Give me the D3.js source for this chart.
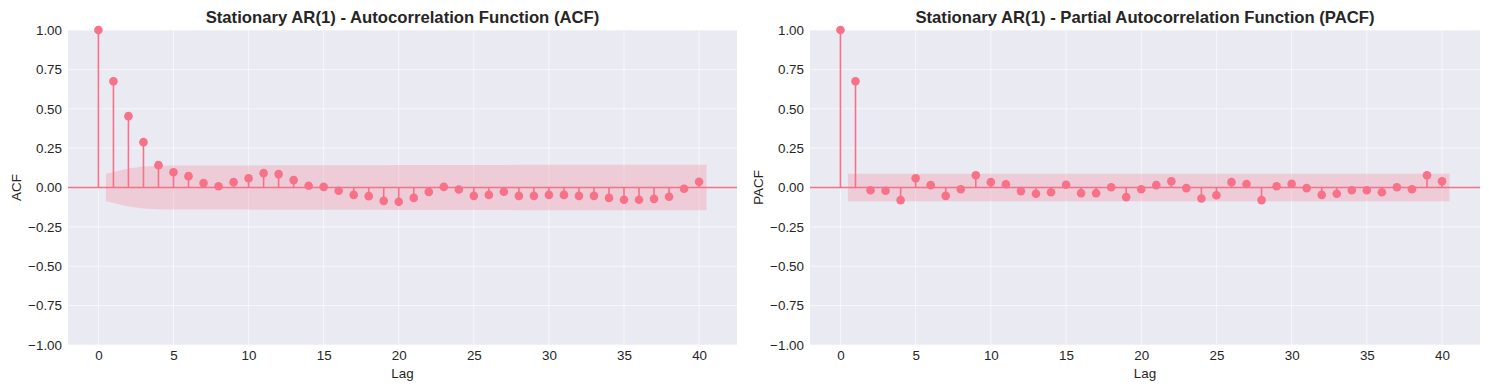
<!DOCTYPE html>
<html>
<head>
<meta charset="utf-8">
<script src="https://cdn.jsdelivr.net/npm/d3@7"></script>
<style>
  html, body { margin: 0; padding: 0; background: #ffffff; }
  svg { display: block; }
  text { font-family: "Liberation Sans", Arial, sans-serif; fill: #262626; }
</style>
</head>
<body>
<svg id="chart" width="1489" height="390"></svg>
<script>
// ---- Data ----
const lags = d3.range(0, 41);
const acfValues = [1.000, 0.675, 0.453, 0.288, 0.142, 0.097, 0.072, 0.028, 0.008, 0.034,
  0.059, 0.091, 0.085, 0.047, 0.011, 0.004, -0.021, -0.047, -0.055, -0.085,
  -0.091, -0.066, -0.028, 0.004, -0.013, -0.053, -0.047, -0.027, -0.053, -0.053,
  -0.047, -0.047, -0.053, -0.053, -0.066, -0.078, -0.078, -0.072, -0.059, -0.008, 0.036];
const pacfValues = [1.000, 0.675, -0.017, -0.021, -0.080, 0.059, 0.015, -0.053, -0.011, 0.078,
  0.034, 0.021, -0.023, -0.040, -0.030, 0.017, -0.036, -0.036, 0.002, -0.061,
  -0.011, 0.015, 0.040, -0.004, -0.070, -0.049, 0.034, 0.022, -0.080, 0.008,
  0.023, -0.004, -0.047, -0.040, -0.017, -0.017, -0.030, 0.002, -0.011, 0.078, 0.040];
// confidence band half-widths for lags 1..40
const acfBand = [0.088, 0.121, 0.134, 0.138, 0.139, 0.140, 0.140, 0.140, 0.140, 0.140,
  0.141, 0.141, 0.141, 0.141, 0.141, 0.141, 0.141, 0.142, 0.142, 0.143,
  0.143, 0.143, 0.143, 0.143, 0.143, 0.143, 0.143, 0.144, 0.144, 0.144,
  0.144, 0.144, 0.144, 0.144, 0.144, 0.145, 0.145, 0.145, 0.145, 0.145];
const pacfBand = lags.slice(1).map(() => 0.088);
const xTicks = [0, 5, 10, 15, 20, 25, 30, 35, 40];
const yTicks = [-1.00, -0.75, -0.50, -0.25, 0.00, 0.25, 0.50, 0.75, 1.00];
const titles = ["Stationary AR(1) - Autocorrelation Function (ACF)",
                "Stationary AR(1) - Partial Autocorrelation Function (PACF)"];
const yLabels = ["ACF", "PACF"];
const xLabel = "Lag";

// ---- Style ----
const color = "#f77189";
const bandColor = "#f77189";
const bg = "#eaeaf2";
const tickFont = 13.4;
const titleFont = 16.7;

const svg = d3.select("#chart");
const panels = [
  { left: 68, right: 737, values: acfValues, band: acfBand, title: titles[0], ylab: yLabels[0] },
  { left: 810, right: 1480, values: pacfValues, band: pacfBand, title: titles[1], ylab: yLabels[1] }
];
const plotTop = 30, plotBottom = 345;

panels.forEach(p => {
  const x = d3.scaleLinear().domain([-2.025, 42.525]).range([p.left, p.right]);
  const y = d3.scaleLinear().domain([-1, 1]).range([plotBottom, plotTop]);
  const g = svg.append("g");

  g.append("rect").attr("x", p.left).attr("y", plotTop)
    .attr("width", p.right - p.left).attr("height", plotBottom - plotTop).attr("fill", bg);

  // grid
  g.selectAll(".gx").data(xTicks).enter().append("line")
    .attr("x1", d => x(d)).attr("x2", d => x(d)).attr("y1", plotTop).attr("y2", plotBottom)
    .attr("stroke", "#ffffff").attr("stroke-width", 0.8).attr("stroke-opacity", 0.8);
  g.selectAll(".gy").data(yTicks).enter().append("line")
    .attr("x1", p.left).attr("x2", p.right).attr("y1", d => y(d)).attr("y2", d => y(d))
    .attr("stroke", "#ffffff").attr("stroke-width", 0.8).attr("stroke-opacity", 0.8);

  // confidence band
  const bandPts = p.band.map((b, i) => {
    let lx = i + 1;
    if (i === 0) lx -= 0.5;
    if (i === p.band.length - 1) lx += 0.5;
    return { x: lx, b: b };
  });
  const area = d3.area().x(d => x(d.x)).y0(d => y(-d.b)).y1(d => y(d.b));
  g.append("path").datum(bandPts).attr("d", area)
    .attr("fill", bandColor).attr("fill-opacity", 0.25).attr("stroke", "none");

  // zero line
  g.append("line").attr("x1", p.left).attr("x2", p.right)
    .attr("y1", y(0)).attr("y2", y(0)).attr("stroke", color).attr("stroke-width", 1.6);

  // stems
  g.selectAll(".stem").data(lags).enter().append("line")
    .attr("x1", d => x(d)).attr("x2", d => x(d))
    .attr("y1", y(0)).attr("y2", d => y(p.values[d]))
    .attr("stroke", color).attr("stroke-width", 1.6);

  // markers
  g.append("g").selectAll("circle").data(lags).enter().append("circle")
    .attr("cx", d => x(d)).attr("cy", d => y(p.values[d])).attr("r", 4.3)
    .attr("fill", color);

  // axes
  const xa = g.append("g").attr("transform", `translate(0,${plotBottom})`)
    .call(d3.axisBottom(x).tickValues(xTicks).tickSize(0).tickPadding(5).tickFormat(d3.format("d")));
  xa.select(".domain").remove();
  xa.selectAll("text").attr("font-size", tickFont).attr("fill", "#262626")
    .attr("font-family", '"Liberation Sans", Arial, sans-serif');

  const ya = g.append("g").attr("transform", `translate(${p.left},0)`)
    .call(d3.axisLeft(y).tickValues(yTicks).tickSize(0).tickPadding(6)
      .tickFormat(d => d3.format(".2f")(d).replace("-", "\u2212")));
  ya.select(".domain").remove();
  ya.selectAll("text").attr("font-size", tickFont).attr("fill", "#262626")
    .attr("font-family", '"Liberation Sans", Arial, sans-serif');

  // title
  g.append("text").attr("x", (p.left + p.right) / 2).attr("y", 23)
    .attr("text-anchor", "middle").attr("font-size", titleFont).attr("font-weight", "bold")
    .text(p.title);
  // x label
  g.append("text").attr("x", (p.left + p.right) / 2).attr("y", 378)
    .attr("text-anchor", "middle").attr("font-size", tickFont).text(xLabel);
  // y label
  g.append("text").attr("transform", `translate(${p.left - 47},${(plotTop + plotBottom) / 2}) rotate(-90)`)
    .attr("text-anchor", "middle").attr("font-size", tickFont).text(p.ylab);
});
</script>
</body>
</html>
